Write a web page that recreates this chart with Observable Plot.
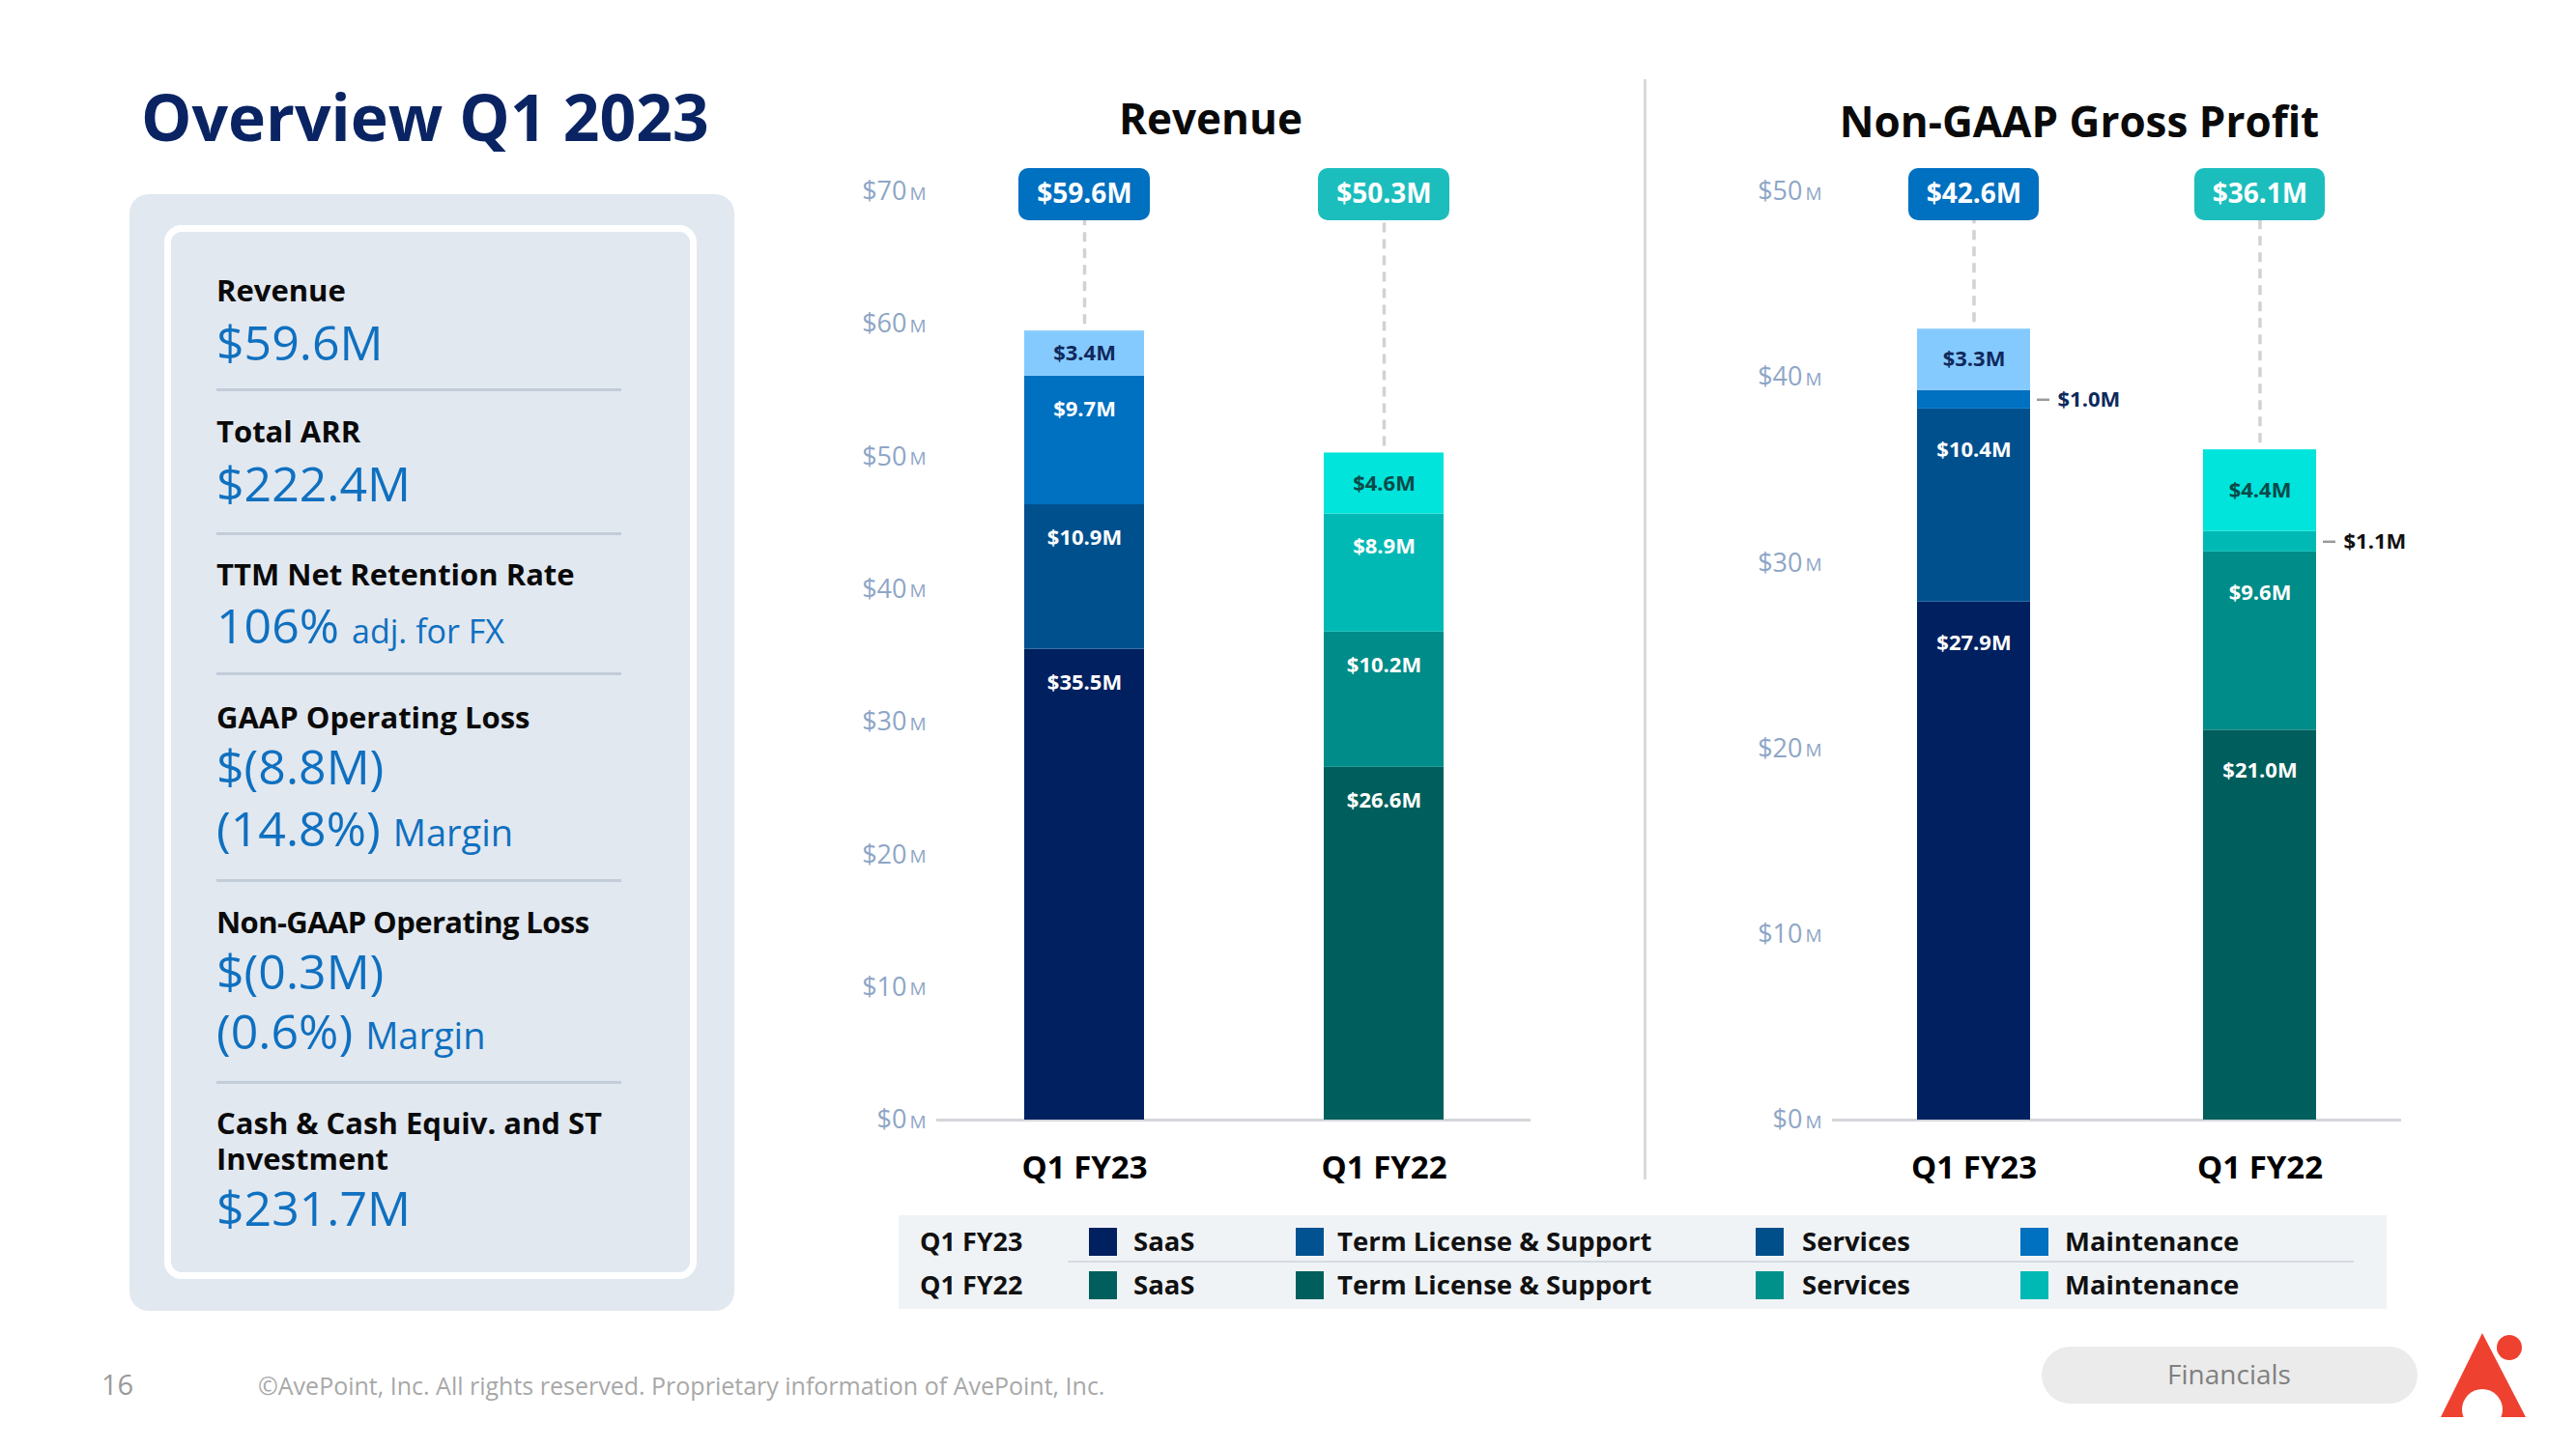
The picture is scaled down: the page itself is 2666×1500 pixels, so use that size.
<!DOCTYPE html>
<html>
<head>
<meta charset="utf-8">
<script src="https://cdn.jsdelivr.net/npm/d3@7"></script>
<script src="https://cdn.jsdelivr.net/npm/@observablehq/plot@0.6"></script>
<style>
  html, body { margin: 0; padding: 0; background: #fff; }
  body { font-family: "Open Sans", "Noto Sans", sans-serif; }
  #page { position: relative; width: 2666px; height: 1500px; overflow: hidden; background: #fff; }
  .abs { position: absolute; white-space: nowrap; line-height: 1; }
  .chart { position: absolute; }
  .chart svg { overflow: visible; }
</style>
</head>
<body>
<div id="page"></div>
<script>
// ---------------- DATA ----------------
const periods = ["Q1 FY23", "Q1 FY22"];
const categories = ["SaaS", "Term License & Support", "Services", "Maintenance"];

const revenueQ1FY23 = [35.5, 10.9, 9.7, 3.4];
const revenueQ1FY22 = [26.6, 10.2, 8.9, 4.6];
const revenueTotals = [59.6, 50.3];
const revenueTicks = [0, 10, 20, 30, 40, 50, 60, 70];

const grossProfitQ1FY23 = [27.9, 10.4, 1.0, 3.3];
const grossProfitQ1FY22 = [21.0, 9.6, 1.1, 4.4];
const grossProfitTotals = [42.6, 36.1];
const grossProfitTicks = [0, 10, 20, 30, 40, 50];

const kpiLabels = ["Revenue", "Total ARR", "TTM Net Retention Rate", "GAAP Operating Loss", "Non-GAAP Operating Loss", "Cash & Cash Equiv. and ST\nInvestment"];
const kpiValues = ["$59.6M", "$222.4M", "106%", "$(8.8M)", "$(0.3M)", "$231.7M"];
const kpiNotes = ["", "", "adj. for FX", "", "", ""];
const kpiMargins = ["", "", "", "(14.8%)", "(0.6%)", ""];

// ---------------- STYLES ----------------
const barColors = [
  ["#002060", "#00508e", "#0070c0", "#85caff"],
  ["#005f5c", "#008c88", "#00b9b5", "#00e4dc"]
];
const insideLabelColors = [
  ["#ffffff", "#ffffff", "#ffffff", "#10295c"],
  ["#ffffff", "#ffffff", "#ffffff", "#0b4a48"]
];
const outsideLabelColors = ["#0c2a5c", "#111111"];
const boxColors = ["#0070c0", "#1bbebd"];
const legendColors = [
  ["#002060", "#005291", "#004f8b", "#0070c0"],
  ["#005f5c", "#005f5c", "#00918b", "#00b9b5"]
];
const axisColor = "#8ea6c6";
const FONT = "'Open Sans', 'Noto Sans', sans-serif";

const page = document.getElementById("page");

function addText(txt, x, cy, size, o = {}) {
  const d = document.createElement("div");
  d.className = "abs";
  if (o.html) d.innerHTML = txt; else d.textContent = txt;
  d.style.left = x + "px";
  if (o.lh) {
    d.style.lineHeight = o.lh + "px";
    d.style.top = (cy - o.lh / 2 - 0.031 * size) + "px";
  } else {
    d.style.top = (cy - size * 0.56) + "px";
  }
  d.style.fontSize = size + "px";
  d.style.fontWeight = o.weight || 400;
  d.style.color = o.color || "#000";
  if (o.center) d.style.transform = "translateX(-50%)";
  if (o.ls) d.style.letterSpacing = o.ls;
  page.appendChild(d);
  return d;
}
function addBox(x, y, w, h, css) {
  const d = document.createElement("div");
  d.style.position = "absolute";
  d.style.left = x + "px"; d.style.top = y + "px";
  d.style.width = w + "px"; d.style.height = h + "px";
  Object.assign(d.style, css || {});
  page.appendChild(d);
  return d;
}

// ---------------- LEFT PANEL ----------------
addText("Overview Q1 2023", 146, 124, 66, {weight: 700, color: "#0a2463"});
addBox(134, 201, 626, 1156, {background: "#e2e8f0", borderRadius: "20px"});
addBox(170, 233, 551, 1091, {background: "#e2e8f0", border: "7px solid #fff", borderRadius: "18px", boxSizing: "border-box"});

const kpiLabelY = [302, 448, 596, 744, 956, 1163];
const kpiValueY = [357, 503, 650, 795, 1007, 1253];
const kpiMarginGap = [0, 0, 0, 64, 62, 0];
const sepY = [403, 552, 697, 911, 1120];
const blue = "#0f70c0";
kpiLabels.forEach((lab, i) => {
  const lines = lab.split("\n");
  if (lines.length > 1) {
    addText(lines.join("<br>"), 224, kpiLabelY[i], 31, {html: true, lh: 37, weight: 700, color: "#0a0a0a"});
  } else {
    addText(lab, 224, kpiLabelY[i], 31, {weight: 700, color: "#0a0a0a", ls: i === 4 ? "-0.6px" : "0"});
  }
  if (kpiNotes[i]) {
    addText(kpiValues[i] + ' <span style="font-size:34px">' + kpiNotes[i] + '</span>', 224, kpiValueY[i], 50, {html: true, color: blue});
  } else if (kpiMargins[i]) {
    addText(kpiValues[i] + '<br>' + kpiMargins[i] + ' <span style="font-size:38px">Margin</span>', 224, kpiValueY[i], 50,
      {html: true, color: blue, lh: kpiMarginGap[i]});
  } else {
    addText(kpiValues[i], 224, kpiValueY[i], 50, {color: blue});
  }
});
sepY.forEach(y => addBox(224, y - 1.5, 419, 3, {background: "#c3ccd9"}));

// ---------------- CHARTS ----------------
const fmt = v => "$" + v.toFixed(1) + "M";

function stackedChart(cfg) {
  const {values, totals, yMax, ticks, width, height, mL, mR, mT, mB, pIn, pOut, boxInset, labelOff} = cfg;
  const rows = [];
  values.forEach((vals, pi) => {
    let acc = 0;
    vals.forEach((v, ci) => {
      rows.push({period: periods[pi], pi, ci, value: v, y1: acc, y2: acc + v});
      acc += v;
    });
  });
  const tops = periods.map((p, pi) => ({period: p, pi, total: totals[pi], top: d3.sum(values[pi])}));
  const pxPerUnit = (height - mT - mB) / yMax;
  const frameW = width - mL - mR;
  const step = frameW / (2 - pIn + 2 * pOut);
  const bw = step * (1 - pIn);
  const inside = rows.filter(d => d.value * pxPerUnit >= 30);
  const small = rows.filter(d => d.value * pxPerUnit < 30);

  return Plot.plot({
    width, height,
    marginLeft: mL, marginRight: mR, marginTop: mT, marginBottom: mB,
    x: {type: "band", domain: periods, paddingInner: pIn, paddingOuter: pOut, axis: null},
    y: {domain: [0, yMax], axis: null},
    style: {fontFamily: FONT, background: "transparent", overflow: "visible"},
    marks: [
      Plot.ruleY([0], {stroke: "#d3d6db", strokeWidth: 3}),
      // dashed connectors
      Plot.ruleX(tops, {x: "period", y1: d => d.top + 7 / pxPerUnit, y2: () => yMax - 30 / pxPerUnit,
        stroke: "#d2d2d2", strokeWidth: 3.5, strokeDasharray: "10,7"}),
      // stacked bars
      Plot.barY(rows, {x: "period", y1: "y1", y2: "y2", fill: d => barColors[d.pi][d.ci]}),
      // inside labels
      Plot.text(inside, {x: "period", y: d => d.y2 - Math.min(d.value / 2, labelOff), text: d => fmt(d.value),
        fill: d => insideLabelColors[d.pi][d.ci], fontSize: 22, fontWeight: 700}),
      // small segment call-outs
      Plot.tickY(small, {x: "period", y: d => (d.y1 + d.y2) / 2, dx: bw, insetLeft: 7, insetRight: bw - 20,
        stroke: "#9a9a9a", strokeWidth: 2.5}),
      Plot.text(small, {x: "period", y: d => (d.y1 + d.y2) / 2, dx: bw / 2 + 28, textAnchor: "start",
        text: d => fmt(d.value), fill: d => outsideLabelColors[d.pi], fontSize: 22, fontWeight: 700}),
      // total boxes
      Plot.barY(tops, {x: "period", y1: () => yMax, y2: () => yMax, fill: d => boxColors[d.pi],
        insetTop: -24, insetBottom: -30, insetLeft: -boxInset, insetRight: -boxInset, rx: 10}),
      Plot.text(tops, {x: "period", y: () => yMax, dy: 3, text: d => fmt(d.total), fill: "#fff", fontSize: 28, fontWeight: 700}),
      // y axis labels
      Plot.text(ticks, {y: d => d, text: d => "$" + d, frameAnchor: "left", textAnchor: "end", dx: -31,
        fill: axisColor, fontSize: 27}),
      Plot.text(ticks, {y: d => d, text: () => "M", frameAnchor: "left", textAnchor: "start", dx: -28, dy: 2,
        fill: axisColor, fontSize: 19}),
      // x axis labels
      Plot.text(periods, {x: d => d, frameAnchor: "bottom", dy: 60, text: d => d, fill: "#000", fontSize: 33, fontWeight: 700})
    ]
  });
}

function mountChart(svg, left, top) {
  const d = document.createElement("div");
  d.className = "chart";
  d.style.left = left + "px"; d.style.top = top + "px";
  d.appendChild(svg);
  page.appendChild(d);
}

mountChart(stackedChart({
  values: [revenueQ1FY23, revenueQ1FY22], totals: revenueTotals, yMax: 70, ticks: revenueTicks,
  width: 760, height: 1100, mL: 109, mR: 36, mT: 48, mB: 91, pIn: 0.6, pOut: 0.29, boxInset: 6, labelOff: 2.5
}), 860, 150);

mountChart(stackedChart({
  values: [grossProfitQ1FY23, grossProfitQ1FY22], totals: grossProfitTotals, yMax: 50, ticks: grossProfitTicks,
  width: 760, height: 1100, mL: 116, mR: 55, mT: 48, mB: 91, pIn: 0.605, pOut: 0.297, boxInset: 9, labelOff: 2.2
}), 1780, 150);

addText("Revenue", 1253, 125, 44, {weight: 700, color: "#0a0a0a", center: true});
addText("Non-GAAP Gross Profit", 2152, 128, 44, {weight: 700, color: "#0a0a0a", center: true});
addBox(1701, 82, 3, 1139, {background: "#d9d9d9"});

// ---------------- LEGEND ----------------
addBox(930, 1258, 1540, 97, {background: "#f0f3f6"});
addBox(1105, 1305, 1331, 2, {background: "#d5dbe2"});
const rowY = [1286, 1331];
const swX = [1127, 1341, 1817, 2091];
const txX = [1173, 1384, 1865, 2137];
periods.forEach((p, pi) => {
  addText(p, 952, rowY[pi], 27, {weight: 700, color: "#111"});
  categories.forEach((c, ci) => {
    addBox(swX[ci], rowY[pi] - 15, 29, 29, {background: legendColors[pi][ci]});
    addText(c, txX[ci], rowY[pi], 27.5, {weight: 700, color: "#111"});
  });
});

// ---------------- FOOTER ----------------
addText("16", 105, 1434, 29, {color: "#9a9a9a"});
addText("©AvePoint, Inc. All rights reserved. Proprietary information of AvePoint, Inc.", 267, 1436, 25, {color: "#a8a8a8"});
addBox(2113, 1394, 389, 59, {background: "#ebebeb", borderRadius: "30px"});
addText("Financials", 2307, 1424, 28, {color: "#808080", center: true});
const logo = document.createElementNS("http://www.w3.org/2000/svg", "svg");
logo.setAttribute("width", "120"); logo.setAttribute("height", "120");
logo.style.position = "absolute"; logo.style.left = "2510px"; logo.style.top = "1370px";
logo.innerHTML = '<path d="M59 10 L104 97 L16 97 Z" fill="#ef4130"/>' +
  '<circle cx="59" cy="89" r="21" fill="#fff"/>' +
  '<rect x="30" y="97" width="60" height="20" fill="#fff"/>' +
  '<circle cx="87" cy="25" r="13" fill="#ef4130"/>';
page.appendChild(logo);
</script>
</body>
</html>
